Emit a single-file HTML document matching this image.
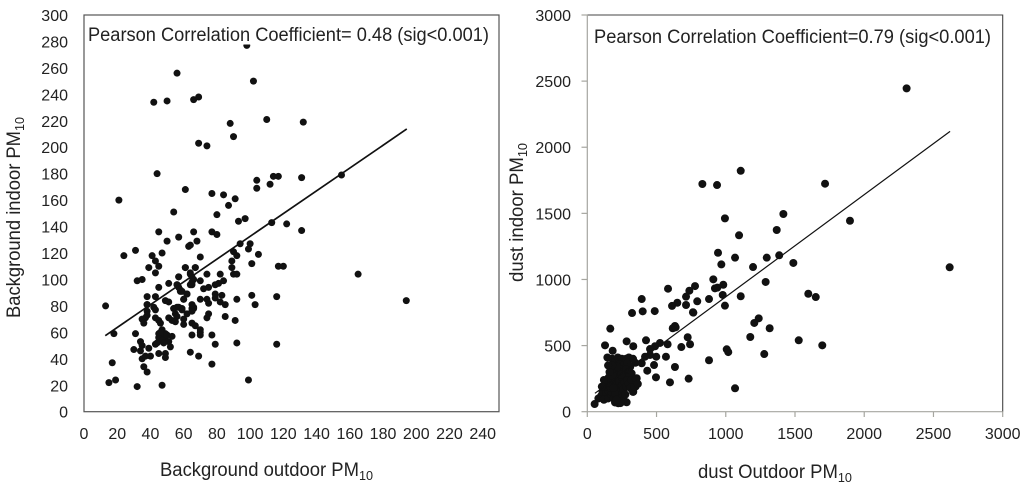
<!DOCTYPE html>
<html lang="en">
<head>
<meta charset="utf-8">
<title>PM10 indoor vs outdoor correlation</title>
<style>
html,body{margin:0;padding:0;background:#fff;width:1024px;height:487px;overflow:hidden}
svg{display:block}
text{font-family:"Liberation Sans",sans-serif;fill:#222}
.tick{font-size:16px}
.title{font-size:19px}
</style>
</head>
<body>
<svg id="chart" xmlns="http://www.w3.org/2000/svg" width="1024" height="487" viewBox="0 0 1024 487">
  <rect width="1024" height="487" fill="#fff"/>
  <g id="left-panel"></g>
  <g id="right-panel"></g>
  <text class="title" x="88" y="41" textLength="401" lengthAdjust="spacingAndGlyphs">Pearson Correlation Coefficient= 0.48 (sig&lt;0.001)</text>
  <text class="title" x="594" y="43" textLength="397" lengthAdjust="spacingAndGlyphs">Pearson Correlation Coefficient=0.79 (sig&lt;0.001)</text>
  <text class="title" x="160" y="476" textLength="213" lengthAdjust="spacingAndGlyphs">Background outdoor PM<tspan font-size="13" dy="4">10</tspan></text>
  <text class="title" x="698" y="478" textLength="154" lengthAdjust="spacingAndGlyphs">dust Outdoor PM<tspan font-size="13" dy="4">10</tspan></text>
  <text class="title" transform="translate(20,318) rotate(-90)" x="0" y="0" textLength="201" lengthAdjust="spacingAndGlyphs">Background indoor PM<tspan font-size="13" dy="4">10</tspan></text>
  <text class="title" transform="translate(523,282) rotate(-90)" x="0" y="0" textLength="139" lengthAdjust="spacingAndGlyphs">dust indoor PM<tspan font-size="13" dy="4">10</tspan></text>
</svg>
<script>
const leftXTicks = [0,20,40,60,80,100,120,140,160,180,200,220,240];
const leftYTicks = [0,20,40,60,80,100,120,140,160,180,200,220,240,260,280,300];
const leftOutdoor = [98,56,102,42,50,66,69,88,90,69,74,110,132,114,117,112,131,155,113,122,131,117,120,165,194,116,116,
44,61,77,84,91,87,21,54,80,93,97,104,104,45,66,77,80,57,50,68,63,64,94,100,99,90,92,105,31,24,41,47,43,45,39,43,70,61,67,64,89,89,90,92,101,74,82,57,65,70,32,35,51,45,56,57,66,64,84,81,79,72,75,58,62,60,38,43,49,51,38,42,70,74,75,79,79,83,82,85,92,101,103,13,54,56,59,66,66,
38,43,38,38,37,35,36,43,45,46,51,53,55,54,57,59,55,56,60,60,62,65,65,65,67,70,75,74,85,91,65,70,70,77,79,92,64,69,77,99,47,32,19,15,17,18,31,34,35,34,30,39,35,37,40,36,38,45,49,49,43,
47,45,49,48,45,49,51,53,52,44,47,46,48,50,56,58,59,65,64,65,61,67,57,62,60,65];
const leftIndoor = [277,256,250,234,235,236,238,218,208,203,201,221,219,178,178,172,177,179,143,142,137,110,110,104,84,87,51,
180,168,165,164,161,156,160,151,149,144,146,175,169,136,136,136,134,132,129,129,125,126,127,127,123,121,118,119,122,118,118,120,114,110,109,105,117,109,109,105,114,109,104,104,112,104,104,102,102,99,99,100,97,94,96,94,100,96,99,97,96,93,94,91,89,85,87,87,84,83,81,79,85,85,82,89,86,88,83,81,85,88,81,80,78,79,78,79,78,
81,77,76,73,71,70,67,71,69,67,71,69,68,78,79,77,74,72,70,66,74,67,78,76,65,62,74,71,72,69,58,60,58,58,51,52,45,42,36,24,20,19,24,22,37,59,59,53,50,46,47,48,40,42,42,34,30,44,44,41,51,
62,59,59,57,56,55,53,57,49,52,54,60,52,58,96,92,91,98,104,96,109,109,102,89,85,81];
const leftFitX = [12.8,194.3];
const leftFitY = [57.5,213.8];

const rightXTicks = [0,500,1000,1500,2000,2500,3000];
const rightYTicks = [0,500,1000,1500,2000,2500,3000];
const rightOutdoor = [831,937,1108,994,1096,2306,1717,1416,1368,1897,2617,944,1067,968,1296,1386,1488,1197,1288,910,982,922,939,978,879,1108,994,1596,1650,1238,1206,1317,1177,1527,1697,1007,1018,1278,879,1067,
778,737,713,650,612,713,794,766,583,633,617,393,323,400,487,763,638,166,128,284,332,424,183,525,489,453,580,725,679,742,498,568,482,433,496,633,597,732,357,393,417,453,347,332,348,284,224,53,
80,100,110,120,130,140,150,160,120,150,170,180,190,200,170,190,180,200,220,250,280,300,230,260,290,310,170,200,220,240,260,280,300,320,210,230,250,270,290,210,230,250,270,290,220,240,260,280,300,190,210,230,250,200,240,260,150,175,200,130,155,185,215,245,275,310,330,340,320,180,170,190,220,240,210,150,
145,150,160,330,350,365,120,105];
const rightIndoor = [1722,1714,1822,1462,1334,2445,1724,1495,1374,1444,1092,1202,1165,1114,1165,1183,1125,1094,981,1001,960,933,938,883,852,873,802,892,867,706,671,631,565,540,502,472,451,436,389,177,
950,915,870,824,800,807,835,749,930,648,631,852,746,759,761,752,638,628,502,532,495,540,461,520,495,474,510,563,489,510,416,416,353,310,260,338,222,250,253,366,416,429,370,151,189,71,64,58,
100,120,150,180,110,140,190,220,90,100,130,170,210,250,290,330,400,380,410,400,400,410,360,350,370,340,240,300,280,320,300,320,300,290,200,230,260,270,260,160,180,200,220,240,130,150,170,190,210,100,110,120,110,70,80,90,160,150,140,190,260,270,340,280,130,180,150,190,240,350,180,180,70,65,90,220,
410,350,300,400,250,210,240,190];
const rightFitX = [55,2620];
const rightFitY = [139,2120];

const NS = 'http://www.w3.org/2000/svg';

function make(parent, tag, attrs) {
  const el = document.createElementNS(NS, tag);
  for (const k in attrs) el.setAttribute(k, attrs[k]);
  parent.appendChild(el);
  return el;
}

function linearScale(d0, d1, r0, r1) {
  return function (v) { return r0 + (v - d0) * (r1 - r0) / (d1 - d0); };
}

function drawPoints(panel, xs, ys, sx, sy, r) {
  xs.forEach(function (v, i) {
    const c = make(panel, 'circle', {cx: sx(v), cy: sy(ys[i]), r: r, fill: '#111'});
    
    
  });
}

function drawFit(panel, fx, fy, sx, sy, w) {
  const l = make(panel, 'line', {x1: sx(fx[0]), y1: sy(fy[0]), x2: sx(fx[1]), y2: sy(fy[1]), stroke: '#111', 'stroke-width': w});
  
  
}

function drawXLabels(panel, ticks, sx) {
  ticks.forEach(function (v) {
    const t = make(panel, 'text', {x: sx(v), y: 439, 'text-anchor': 'middle', 'class': 'tick'});
    t.textContent = v;
    
    
  });
}

function drawYLabels(panel, ticks, sy, x) {
  ticks.forEach(function (v) {
    const t = make(panel, 'text', {x: x, y: sy(v) + 6, 'text-anchor': 'end', 'class': 'tick'});
    t.textContent = v;
    
    
  });
}

/* left panel */
const leftPanel = document.getElementById('left-panel');
const lx = linearScale(0, 240, 84, 482.7);
const ly = linearScale(0, 300, 411.7, 15);
drawPoints(leftPanel, leftOutdoor, leftIndoor, lx, ly, 3.5);
drawFit(leftPanel, leftFitX, leftFitY, lx, ly, 1.7);
const leftCover = make(leftPanel, 'rect', {x: 86, y: 17, width: 411, height: 27.5, fill: '#fff'});


const leftFrame = make(leftPanel, 'rect', {x: 84, y: 15, width: 415, height: 396.7, fill: 'none', stroke: '#555', 'stroke-width': 1.2});


drawXLabels(leftPanel, leftXTicks, lx);
drawYLabels(leftPanel, leftYTicks, ly, 68);

/* right panel */
const rightPanel = document.getElementById('right-panel');
const rx = linearScale(0, 3000, 587.3, 1002.7);
const ry = linearScale(0, 3000, 411.7, 15);
drawPoints(rightPanel, rightOutdoor, rightIndoor, rx, ry, 4);
drawFit(rightPanel, rightFitX, rightFitY, rx, ry, 1.2);
const topRight = make(rightPanel, 'path', {d: 'M587.3 15H1002.7V411.7', fill: 'none', stroke: '#444', 'stroke-width': 1.1});


const axesPath = make(rightPanel, 'path', {d: 'M587.3 15V411.7H1002.7', fill: 'none', stroke: '#a6a6a0', 'stroke-width': 1.2});


rightXTicks.forEach(function (v) {
  const m = make(rightPanel, 'line', {x1: rx(v), x2: rx(v), y1: 411.7, y2: 417, stroke: '#a6a6a0', 'stroke-width': 1.2});
  
  
});
rightYTicks.forEach(function (v) {
  const m = make(rightPanel, 'line', {x1: 581.5, x2: 587.3, y1: ry(v), y2: ry(v), stroke: '#a6a6a0', 'stroke-width': 1.2});
  
  
});
drawXLabels(rightPanel, rightXTicks, rx);
drawYLabels(rightPanel, rightYTicks, ry, 571);
</script>
</body>
</html>
